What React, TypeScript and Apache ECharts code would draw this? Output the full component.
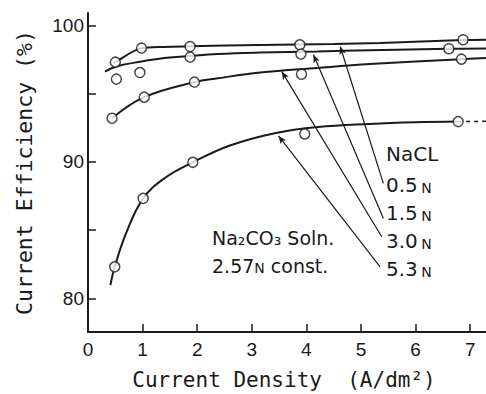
import React, { useEffect, useRef } from "react";
import * as echarts from "echarts";

// Measured data points (current density A/dm², current efficiency %)
const pointsA: number[][] = [[0.5, 97.3], [0.98, 98.33], [1.87, 98.45], [3.88, 98.57], [6.87, 98.94]]; // 0.5 N
const pointsB: number[][] = [[0.52, 96.06], [0.95, 96.54], [1.87, 97.67], [3.9, 97.89], [6.61, 98.28]]; // 1.5 N
const pointsC: number[][] = [[0.44, 93.2], [1.03, 94.74], [1.95, 95.84], [3.91, 96.42], [6.84, 97.52]]; // 3.0 N
const pointsD: number[][] = [[0.49, 82.32], [1.01, 87.33], [1.92, 89.97], [3.97, 92.05], [6.78, 92.95]]; // 5.3 N

// Hand-drawn fitted curves
const curveA: number[][] = [[0.47, 97.22], [0.5, 97.3], [0.98, 98.33], [1.4, 98.42], [1.87, 98.46], [3.15, 98.56], [4.5, 98.63], [5.35, 98.7], [6.87, 98.92], [7.29, 98.95]];
const curveB: number[][] = [[0.31, 96.61], [0.52, 96.99], [0.98, 97.35], [1.4, 97.6], [1.87, 97.76], [2.38, 97.9], [3.15, 98.0], [4.2, 98.08], [5.16, 98.18], [6.61, 98.28], [7.29, 98.3]];
const curveC: number[][] = [[0.44, 93.2], [1.03, 94.74], [1.95, 95.84], [2.38, 96.12], [3.15, 96.54], [4.2, 96.88], [5.16, 97.16], [6.84, 97.52], [7.29, 97.6]];
const curveD: number[][] = [[0.41, 80.98], [0.49, 82.32], [0.7, 84.8], [1.01, 87.33], [1.4, 88.8], [1.92, 89.97], [2.6, 91.2], [3.42, 92.1], [4.21, 92.55], [5.16, 92.78], [6.0, 92.9], [6.78, 92.95]];
const curveDTail: number[][] = [[6.78, 92.95], [7.29, 92.97]];

// Leader lines: [label end, arrow tip on the curve]
const leaderLines: number[][][] = [
  [[5.41, 88.43], [4.62, 98.45]],
  [[5.41, 85.87], [4.13, 97.84]],
  [[5.38, 84.52], [3.55, 96.61]],
  [[5.35, 82.32], [3.49, 91.9]],
];

const concentrations = ["0.5", "1.5", "3.0", "5.3"];
const xTicks = [1, 2, 3, 4, 5, 6, 7];
const xLabels = [0, 1, 2, 3, 4, 5, 6, 7];
const yTicks = [80, 85, 90, 95, 100];
const yLabels = [80, 90, 100];

const INK = "#1a1a1a";

export default function App() {
  const ref = useRef<HTMLDivElement>(null);
  useEffect(() => {
    if (!ref.current) return;
    const chart = echarts.init(ref.current, undefined, { renderer: "svg" });
    const curveSeries = (name: string, data: number[][], extra: any = {}) => ({
      name,
      type: "line",
      data,
      smooth: 0.4,
      showSymbol: false,
      symbol: "none",
      lineStyle: { color: INK, width: 2 },
      z: 2,
      silent: true,
      ...extra,
    });
    const pointSeries = (name: string, data: number[][]) => ({
      name: name + " pts",
      type: "scatter",
      data,
      symbol: "circle",
      symbolSize: 10,
      itemStyle: { color: "#fff", borderColor: INK, borderWidth: 1.5 },
      z: 3,
      silent: true,
    });
    const labelTexts = concentrations.map((c, i) => ({
      type: "text",
      left: 386,
      top: 175 + i * 28,
      style: {
        text: `{d|${c}} {n|N}`,
        rich: {
          d: { fontSize: 20, fontFamily: "DejaVu Sans", fill: INK, lineHeight: 20, verticalAlign: "bottom" },
          n: { fontSize: 14, fontFamily: "DejaVu Sans", fill: INK, lineHeight: 15, verticalAlign: "bottom" },
        },
      },
    }));
    chart.setOption({
      animation: false,
      backgroundColor: "#fff",
      grid: { left: 88, right: 0, top: 13, bottom: 62, containLabel: false, outerBoundsMode: "none" },
      xAxis: {
        type: "value",
        min: 0,
        max: 7.29,
        axisLine: { show: true, lineStyle: { color: INK, width: 2 } },
        axisTick: { show: true, inside: true, length: 8, customValues: xTicks, lineStyle: { color: INK, width: 1.5 } },
        axisLabel: { customValues: xLabels, fontSize: 19, color: INK, fontFamily: "Liberation Sans", margin: 8 },
        splitLine: { show: false },
        name: "Current Density  (A/dm²)",
        nameLocation: "middle",
        nameGap: 37,
        nameTextStyle: { fontSize: 21, fontFamily: "DejaVu Sans Mono", color: INK, padding: [0, 6, 0, 0] },
      },
      yAxis: {
        type: "value",
        min: 77.55,
        max: 100.9,
        axisLine: { show: true, lineStyle: { color: INK, width: 2 } },
        axisTick: { show: true, inside: true, length: 8, customValues: yTicks, lineStyle: { color: INK, width: 1.5 } },
        axisLabel: { customValues: yLabels, fontSize: 19, color: INK, fontFamily: "Liberation Sans", margin: 4 },
        splitLine: { show: false },
        name: "Current Efficiency (%)",
        nameLocation: "middle",
        nameRotate: 90,
        nameGap: 53,
        nameTextStyle: { fontSize: 21.5, fontFamily: "DejaVu Sans Mono", color: INK },
      },
      series: [
        curveSeries("0.5 N", curveA, {
          smooth: 0.3,
          markLine: {
            silent: true,
            symbol: ["none", "arrow"],
            symbolSize: [5, 8],
            label: { show: false },
            lineStyle: { color: INK, width: 1.2, type: "solid" },
            data: leaderLines.map((l) => [{ coord: l[0] }, { coord: l[1] }]),
          },
        }),
        curveSeries("1.5 N", curveB),
        curveSeries("3.0 N", curveC),
        curveSeries("5.3 N", curveD),
        curveSeries("5.3 N tail", curveDTail, { smooth: false, lineStyle: { color: INK, width: 1.5, type: [4, 4] } }),
        pointSeries("0.5 N", pointsA),
        pointSeries("1.5 N", pointsB),
        pointSeries("3.0 N", pointsC),
        pointSeries("5.3 N", pointsD),
      ],
      graphic: [
        {
          type: "text",
          left: 386,
          top: 144,
          style: { text: "NaCL", fontSize: 20, fontFamily: "DejaVu Sans", fill: INK },
        },
        ...labelTexts,
        {
          type: "text",
          left: 212,
          top: 228,
          style: { text: "Na₂CO₃ Soln.", fontSize: 19, fontFamily: "DejaVu Sans", fill: INK },
        },
        {
          type: "text",
          left: 212,
          top: 256,
          style: {
            text: "{d|2.57}{n|N}{d| const.}",
            rich: {
              d: { fontSize: 19, fontFamily: "DejaVu Sans", fill: INK, lineHeight: 19, verticalAlign: "bottom" },
              n: { fontSize: 14, fontFamily: "DejaVu Sans", fill: INK, lineHeight: 15, verticalAlign: "bottom" },
            },
          },
        },
      ],
    });
    return () => chart.dispose();
  }, []);
  return <div ref={ref} style={{ position: "fixed", left: 0, top: 0, width: 486, height: 394 }} />;
}
